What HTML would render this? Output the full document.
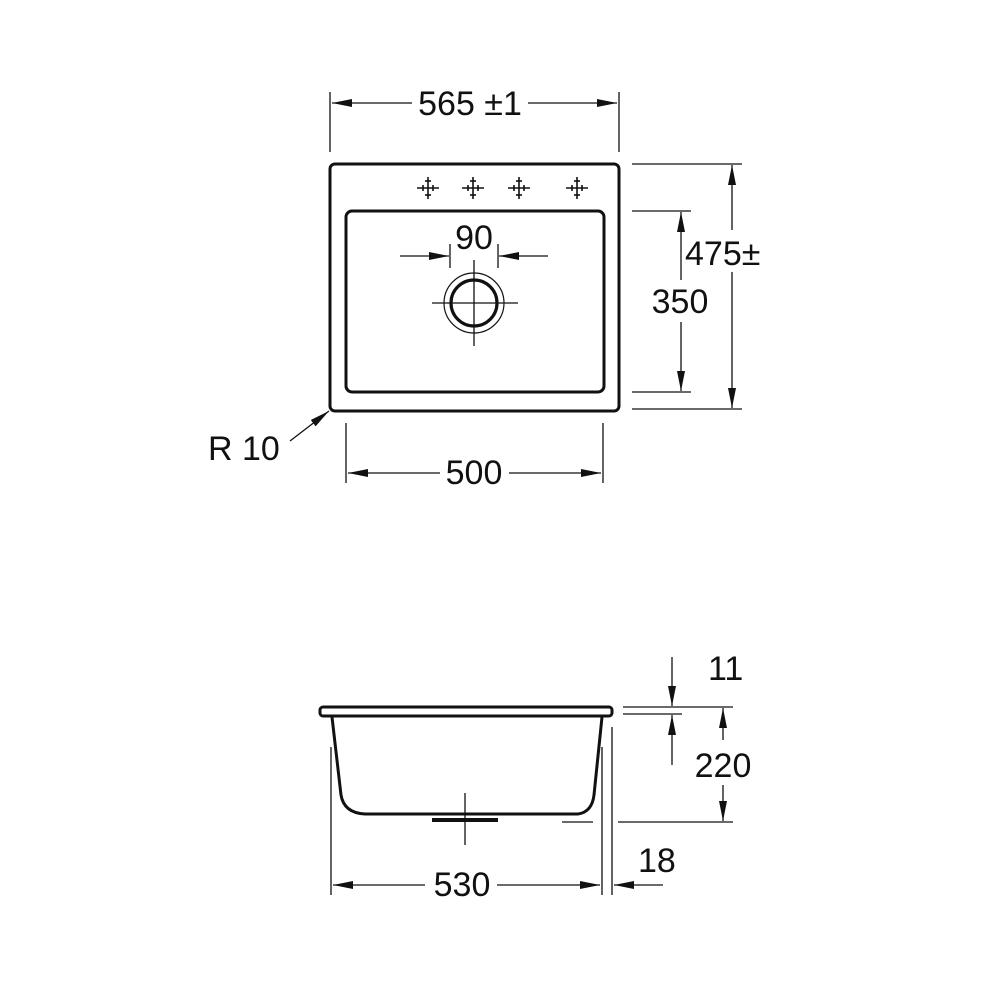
<!DOCTYPE html>
<html><head><meta charset="utf-8"><style>
html,body{margin:0;padding:0;background:#fff}
svg{display:block}
text{font-family:"Liberation Sans",Arial,sans-serif;font-size:34px;fill:#111}
</style></head><body>
<svg width="1000" height="1000" viewBox="0 0 1000 1000" xmlns="http://www.w3.org/2000/svg">
<defs>
<marker id="a" viewBox="0 0 20 8" refX="20" refY="4" markerWidth="20" markerHeight="8" markerUnits="userSpaceOnUse" orient="auto"><path d="M0,0 L20,4 L0,8 Z" fill="#111"/></marker>
<g id="f" stroke="#111" stroke-width="1.6" fill="none">
<line x1="-11" y1="0" x2="11" y2="0"/><line x1="0" y1="-11" x2="0" y2="11"/>
<line x1="-5" y1="-3" x2="-5" y2="3"/><line x1="5" y1="-3" x2="5" y2="3"/>
<line x1="-3" y1="-7" x2="3" y2="-7"/><line x1="-3" y1="7" x2="3" y2="7"/>
</g>
</defs>
<g stroke="#111" fill="none">
<!-- top view -->
<rect x="330" y="164" width="289" height="247" rx="5" stroke-width="3"/>
<rect x="346" y="211" width="258" height="181" rx="6" stroke-width="3"/>
<circle cx="474" cy="303" r="23" stroke-width="3.2"/>
<circle cx="474" cy="303" r="30" stroke-width="1.2"/>
<g stroke-width="1.3">
<line x1="432" y1="303" x2="518" y2="303"/><line x1="474" y1="260" x2="474" y2="346"/>
<!-- 565 -->
<line x1="330" y1="92" x2="330" y2="152"/><line x1="619" y1="92" x2="619" y2="152"/>
<line x1="412" y1="103" x2="332" y2="103" marker-end="url(#a)"/>
<line x1="528" y1="103" x2="617" y2="103" marker-end="url(#a)"/>
<!-- 90 -->
<line x1="450" y1="244" x2="450" y2="268"/><line x1="498" y1="244" x2="498" y2="268"/>
<line x1="400" y1="256" x2="449" y2="256" marker-end="url(#a)"/>
<line x1="548" y1="256" x2="499" y2="256" marker-end="url(#a)"/>
<!-- right dims -->
<line x1="632" y1="164" x2="742" y2="164"/><line x1="632" y1="211" x2="691" y2="211"/>
<line x1="632" y1="392" x2="691" y2="392"/><line x1="632" y1="409" x2="742" y2="409"/>
<line x1="732" y1="230" x2="732" y2="165" marker-end="url(#a)"/>
<line x1="732" y1="272" x2="732" y2="408" marker-end="url(#a)"/>
<line x1="681" y1="280" x2="681" y2="212" marker-end="url(#a)"/>
<line x1="681" y1="322" x2="681" y2="391" marker-end="url(#a)"/>
<!-- R10 -->
<line x1="290" y1="441" x2="329" y2="411" marker-end="url(#a)"/>
<!-- 500 -->
<line x1="346" y1="423" x2="346" y2="483"/><line x1="603" y1="423" x2="603" y2="483"/>
<line x1="440" y1="473" x2="348" y2="473" marker-end="url(#a)"/>
<line x1="509" y1="473" x2="601" y2="473" marker-end="url(#a)"/>
</g>
<!-- side view -->
<rect x="320" y="707" width="292" height="9" rx="3" stroke-width="3"/>
<path d="M332,717 L341,795 Q344,813 365,814 L578,814 Q592,812 594,795 L602,717" stroke-width="3"/>
<path d="M432,820 L498,820" stroke-width="4"/>
<g stroke-width="1.3">
<line x1="465" y1="793" x2="465" y2="845"/>
<line x1="331" y1="747" x2="331" y2="895"/>
<line x1="602" y1="747" x2="602" y2="895"/>
<line x1="612" y1="727" x2="612" y2="895"/>
<line x1="562" y1="822" x2="593" y2="822"/>
<line x1="618" y1="822" x2="733" y2="822"/>
<line x1="623" y1="707" x2="733" y2="707"/>
<line x1="623" y1="714" x2="682" y2="714"/>
<line x1="672" y1="657" x2="672" y2="706" marker-end="url(#a)"/>
<line x1="672" y1="765" x2="672" y2="715" marker-end="url(#a)"/>
<line x1="723" y1="740" x2="723" y2="708" marker-end="url(#a)"/>
<line x1="723" y1="785" x2="723" y2="821" marker-end="url(#a)"/>
<line x1="425" y1="885" x2="333" y2="885" marker-end="url(#a)"/>
<line x1="497" y1="885" x2="600" y2="885" marker-end="url(#a)"/>
<line x1="663" y1="885" x2="614" y2="885" marker-end="url(#a)"/>
</g>
</g>
<use href="#f" x="428" y="188"/><use href="#f" x="473" y="188"/><use href="#f" x="519" y="188"/><use href="#f" x="577" y="188"/>
<text x="470" y="115" text-anchor="middle">565 ±1</text>
<text x="474" y="249" text-anchor="middle">90</text>
<text x="685" y="265">475±</text>
<text x="680" y="313" text-anchor="middle">350</text>
<text x="208" y="460">R 10</text>
<text x="474" y="484" text-anchor="middle">500</text>
<text x="708" y="680">11</text>
<text x="723" y="777" text-anchor="middle">220</text>
<text x="462" y="896" text-anchor="middle">530</text>
<text x="638" y="872">18</text>
</svg>
</body></html>
